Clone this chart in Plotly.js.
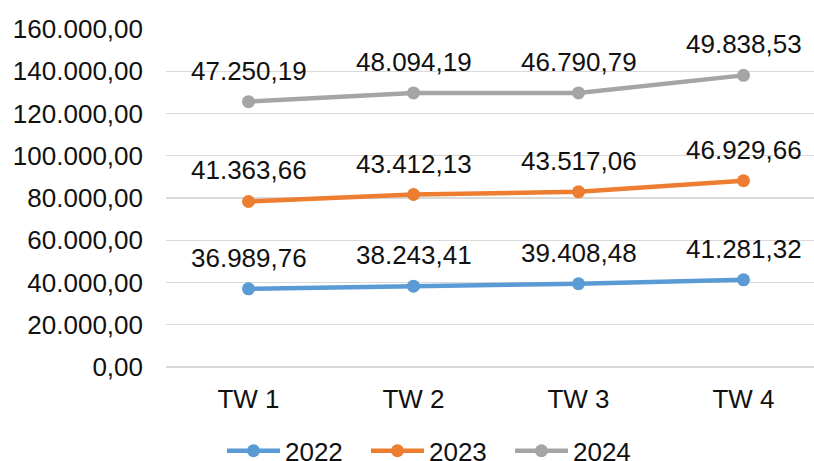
<!DOCTYPE html>
<html>
<head>
<meta charset="utf-8">
<script src="https://cdn.plot.ly/plotly-3.0.1.min.js"></script>
<style>html,body{margin:0;padding:0;overflow:hidden;background:#fff}#chart{width:826px;height:461px}</style>
</head>
<body>
<div id="chart"></div>
<script>
const categories = ["TW 1", "TW 2", "TW 3", "TW 4"];
const seriesNames = ["2022", "2023", "2024"];
const v2022 = [36989.76, 38243.41, 39408.48, 41281.32];
const v2023 = [41363.66, 43412.13, 43517.06, 46929.66];
const v2024 = [47250.19, 48094.19, 46790.79, 49838.53];
const colors = ["#5B9BD5", "#ED7D31", "#A5A5A5"];

const values = [v2022, v2023, v2024];
function fmt(n) {
  const parts = n.toFixed(2).split(".");
  parts[0] = parts[0].replace(/\B(?=(\d{3})+(?!\d))/g, ".");
  return parts[0] + "," + parts[1];
}
const cum = [];
values.forEach((arr, i) => {
  cum.push(arr.map((v, j) => v + (i > 0 ? cum[i - 1][j] : 0)));
});
const font = {family: "Liberation Sans, Arial, sans-serif", size: 26, color: "#111"};
const traces = values.map((arr, i) => ({
  type: "scatter", mode: "lines+markers", name: seriesNames[i],
  x: categories, y: cum[i],
  line: {color: colors[i], width: 4.5},
  marker: {color: colors[i], size: 13},
  hoverinfo: "skip"
}));
const annotations = [];
values.forEach((arr, i) => {
  arr.forEach((v, j) => {
    annotations.push({x: categories[j], y: cum[i][j], text: fmt(v), showarrow: false,
      yshift: 31, font: font, xanchor: "center", yanchor: "middle"});
  });
});
const layout = {
  width: 826, height: 461,
  margin: {l: 166, r: 0, t: 29, b: 94, autoexpand: false},
  paper_bgcolor: "#fff", plot_bgcolor: "#fff",
  separators: ",.",
  font: font,
  showlegend: true,
  legend: {orientation: "h", x: 0.0848, xanchor: "left", yref: "container", y: 0.022, yanchor: "middle",
    font: font, entrywidth: 76, itemwidth: 53},
  xaxis: {type: "category", range: [-0.5, 3.5], showgrid: false, zeroline: false,
    showline: false, ticks: "", tickfont: font, ticklabelstandoff: 14, fixedrange: true},
  yaxis: {range: [0, 160000], tickvals: [0,20000,40000,60000,80000,100000,120000,140000,160000],
    tickformat: ",.2f", showgrid: true, gridcolor: "#d9d9d9", gridwidth: 1.3,
    zeroline: true, zerolinecolor: "#d9d9d9", zerolinewidth: 1.3, showline: false,
    ticks: "", tickfont: font, ticklabelstandoff: 22, fixedrange: true},
  annotations: annotations
};
Plotly.newPlot("chart", traces, layout, {displayModeBar: false, staticPlot: true});
</script>
</body>
</html>
